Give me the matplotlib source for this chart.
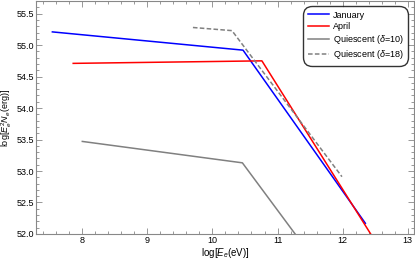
import matplotlib
matplotlib.use("Agg")
import matplotlib.pyplot as plt
from matplotlib.ticker import MultipleLocator

plt.rcParams['font.family'] = ['Liberation Sans', 'DejaVu Sans']
plt.rcParams['mathtext.fontset'] = 'custom'
plt.rcParams['mathtext.rm'] = 'Liberation Sans'
plt.rcParams['mathtext.it'] = 'Liberation Sans:italic'

jan_x = [7.54, 10.47, 12.35]
jan_y = [55.21, 54.92, 52.17]
apr_x = [7.86, 10.76, 12.45]
apr_y = [54.71, 54.75, 51.97]
q10_x = [8.0, 10.46, 11.5]
q10_y = [53.47, 53.13, 51.68]
q18_x = [9.70, 10.30, 11.99]
q18_y = [55.28, 55.23, 52.91]

fig = plt.figure(figsize=(4.15, 2.62), dpi=100)
ax = fig.add_axes([0.087, 0.107, 0.911, 0.889])

ax.plot(jan_x, jan_y, color='#0000ff', lw=1.1, label='January')
ax.plot(apr_x, apr_y, color='#ff0000', lw=1.1, label='April')
ax.plot(q10_x, q10_y, color='#808080', lw=1.1, label=r'Quiescent ($\delta$=10)')
ax.plot(q18_x, q18_y, color='#808080', lw=1.1, ls=(0, (3, 1.5)), label=r'Quiescent ($\delta$=18)')

ax.set_xlim(7.29, 13.1)
ax.set_ylim(52.0, 55.7)
ax.xaxis.set_major_locator(MultipleLocator(1))
ax.xaxis.set_minor_locator(MultipleLocator(0.2))
ax.yaxis.set_major_locator(MultipleLocator(0.5))
ax.yaxis.set_minor_locator(MultipleLocator(0.1))
ax.yaxis.set_major_formatter(matplotlib.ticker.FormatStrFormatter('%.1f'))

for s in ax.spines.values():
    s.set_color('#888888')
    s.set_linewidth(0.8)
ax.tick_params(which='both', direction='in', top=True, right=True, colors='#888888',
               labelcolor='black', labelsize=6.5, width=0.6, pad=1.5)
ax.tick_params(which='major', length=4)
ax.tick_params(which='minor', length=2)

ax.set_xlabel(r'log[$E_e$(eV)]', fontsize=7, labelpad=0.5)
ax.set_ylabel(r'log[$E_e^2N_e$(erg)]', fontsize=6.5)
ax.yaxis.set_label_coords(-0.058, 0.5)

leg = ax.legend(loc='upper right', fontsize=6.5, frameon=True, fancybox=True,
                edgecolor='black', handlelength=2.4, borderpad=0.5,
                labelspacing=0.25, handletextpad=0.35, bbox_to_anchor=(0.995, 0.998))
leg.get_frame().set_linewidth(1.0)
leg.get_frame().set_boxstyle('round', pad=0, rounding_size=1.0)

fig.savefig('out.png', dpi=100)
